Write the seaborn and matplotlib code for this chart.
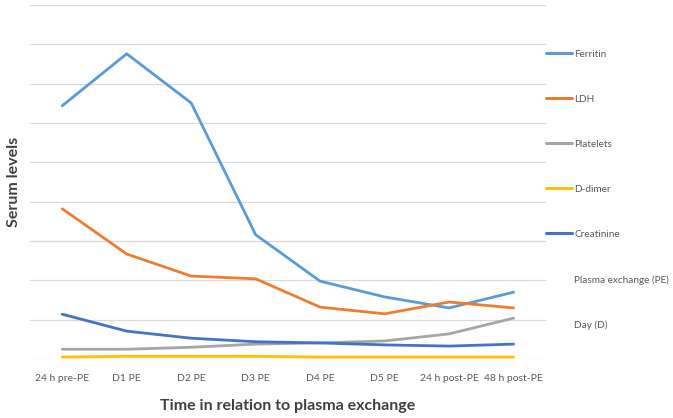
import pandas as pd
import numpy as np
import seaborn as sns
import matplotlib.pyplot as plt
from matplotlib.lines import Line2D

times = ['24 h pre-PE', 'D1 PE', 'D2 PE', 'D3 PE', 'D4 PE', 'D5 PE', '24 h post-PE', '48 h post-PE']
ferritin = [6.44, 7.76, 6.51, 3.16, 1.98, 1.58, 1.30, 1.70]
ldh = [3.82, 2.67, 2.11, 2.04, 1.32, 1.15, 1.45, 1.30]
platelets = [0.25, 0.25, 0.30, 0.38, 0.41, 0.46, 0.64, 1.04]
ddimer = [0.05, 0.07, 0.07, 0.07, 0.05, 0.05, 0.05, 0.05]
creatinine = [1.14, 0.71, 0.53, 0.44, 0.41, 0.36, 0.33, 0.38]

names = ['Ferritin', 'LDH', 'Platelets', 'D-dimer', 'Creatinine']
colors = ['#5B9BD5', '#ED7D31', '#A5A5A5', '#FFC000', '#4472C4']
series = [ferritin, ldh, platelets, ddimer, creatinine]

rows = []
for n, vals in zip(names, series):
    for t, v in zip(times, vals):
        rows.append({'time': t, 'value': v, 'series': n})
df = pd.DataFrame(rows)

sns.set_style('white')
plt.rcParams['font.family'] = ['Lato', 'DejaVu Sans']

fig = plt.figure(figsize=(6.73, 4.18), dpi=100)
ax = fig.add_axes([0.0446, 0.141, 0.7664, 0.847])
sns.lineplot(data=df, x='time', y='value', hue='series', hue_order=names,
             palette=dict(zip(names, colors)), linewidth=2, sort=False, ax=ax, legend=False)

ax.set_xlim(-0.5, 7.5)
ax.set_ylim(0, 9)
ax.set_yticks(np.arange(0, 10, 1))
ax.set_yticklabels([])
ax.tick_params(axis='y', length=0)
ax.tick_params(axis='x', length=0, labelsize=7.5, labelcolor='#595959', pad=11)
ax.grid(axis='y', color='#d9d9d9', linewidth=0.9)
ax.set_axisbelow(True)
for s in ax.spines.values():
    s.set_visible(False)

ax.set_xlabel('Time in relation to plasma exchange', fontsize=11.5, fontweight='bold', color='#404040', labelpad=11)
ax.set_ylabel('Serum levels', fontsize=11.5, fontweight='bold', color='#404040', labelpad=3)

handles = [Line2D([], [], color=c, linewidth=2.2) for c in colors]
handles += [Line2D([], [], color='none'), Line2D([], [], color='none')]
labels = names + ['Plasma exchange (PE)', 'Day (D)']
leg = fig.legend(handles, labels, loc='upper left', bbox_to_anchor=(0.805, 0.89),
                 frameon=False, fontsize=7.2, labelspacing=3.6, handlelength=2.6,
                 handletextpad=0.25, borderaxespad=0)
for t in leg.get_texts():
    t.set_color('#595959')

fig.savefig('out.png', dpi=100)
